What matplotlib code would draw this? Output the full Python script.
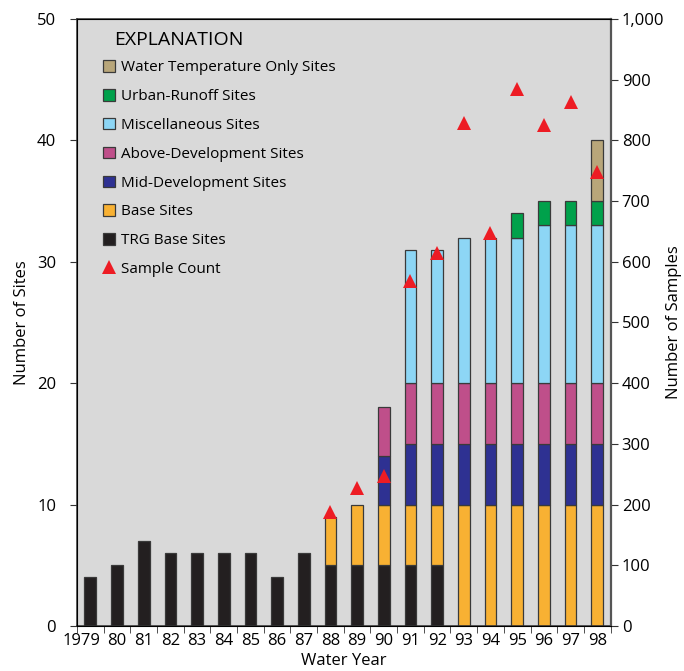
import matplotlib
matplotlib.use("Agg")
import matplotlib.pyplot as plt
import matplotlib.transforms as mtransforms
import numpy as np
from matplotlib.patches import Patch
from matplotlib.lines import Line2D
from matplotlib.ticker import FuncFormatter

plt.rcParams['font.family'] = ['Open Sans', 'DejaVu Sans']

# water years and their tick labels
years = [1979, 1980, 1981, 1982, 1983, 1984, 1985, 1986, 1987, 1988,
         1989, 1990, 1991, 1992, 1993, 1994, 1995, 1996, 1997, 1998]
yearLabels = ['1979', '80', '81', '82', '83', '84', '85', '86', '87', '88',
              '89', '90', '91', '92', '93', '94', '95', '96', '97', '98']

# number of sites per category (stacked bottom to top)
trgBase = [4, 5, 7, 6, 6, 6, 6, 4, 6, 5, 5, 5, 5, 5, 0, 0, 0, 0, 0, 0]
base = [0, 0, 0, 0, 0, 0, 0, 0, 0, 4, 5, 5, 5, 5, 10, 10, 10, 10, 10, 10]
midDev = [0, 0, 0, 0, 0, 0, 0, 0, 0, 0, 0, 4, 5, 5, 5, 5, 5, 5, 5, 5]
aboveDev = [0, 0, 0, 0, 0, 0, 0, 0, 0, 0, 0, 4, 5, 5, 5, 5, 5, 5, 5, 5]
misc = [0, 0, 0, 0, 0, 0, 0, 0, 0, 0, 0, 0, 11, 11, 12, 12, 12, 13, 13, 13]
urban = [0, 0, 0, 0, 0, 0, 0, 0, 0, 0, 0, 0, 0, 0, 0, 0, 2, 2, 2, 2]
waterTemp = [0, 0, 0, 0, 0, 0, 0, 0, 0, 0, 0, 0, 0, 0, 0, 0, 0, 0, 0, 5]

# sample counts (right axis)
sampleYears = [1988, 1989, 1990, 1991, 1992, 1993, 1994, 1995, 1996, 1997, 1998]
sampleCount = [188, 228, 247, 568, 614, 828, 647, 884, 825, 864, 748]

series = [
    ('TRG Base Sites', trgBase, '#231F20'),
    ('Base Sites', base, '#F8B133'),
    ('Mid-Development Sites', midDev, '#2E3192'),
    ('Above-Development Sites', aboveDev, '#BF4F8A'),
    ('Miscellaneous Sites', misc, '#8DD6F5'),
    ('Urban-Runoff Sites', urban, '#00A14B'),
    ('Water Temperature Only Sites', waterTemp, '#B8A67A'),
]
edge = '#3a3a3a'
red = '#ED1C24'

fig = plt.figure(figsize=(6.84, 6.71), dpi=100)
ax = fig.add_axes([0.1126, 0.0671, 0.78, 0.9046])
ax.set_facecolor('#D9D9D9')

x = np.array(years)
bottom = np.zeros(len(years))
for name, vals, color in series:
	vals = np.array(vals, dtype=float)
	keep = vals > 0
	ax.bar(x[keep], vals[keep], width=0.44, bottom=bottom[keep], color=color,
	       edgecolor=edge, linewidth=0.9, zorder=2)
	bottom += vals

ax.set_xlim(1978.5, 1998.5)
ax.set_ylim(0, 50)
ax.set_yticks([0, 10, 20, 30, 40, 50])
ax.set_xticks(years)
ax.set_xticklabels(yearLabels)
ax.set_xticks(np.arange(1978.5, 1999, 1.0), minor=True)
ax.tick_params(axis='x', which='major', length=0, pad=5, labelsize=12)
ax.tick_params(axis='x', which='minor', length=5, color='#333333')
ax.tick_params(axis='y', length=5, color='#333333', labelsize=12, pad=10)
for s in ax.spines.values():
	s.set_color('#333333')
	s.set_linewidth(1.1)

# the first label is wider, nudge it left like the original
first = ax.get_xticklabels()[0]
first.set_transform(first.get_transform() +
                    mtransforms.ScaledTranslation(-9 / 100, 0, fig.dpi_scale_trans))

ax.set_ylabel('Number of Sites', fontsize=12, labelpad=5)
ax.set_xlabel('Water Year', fontsize=12, labelpad=3)

ax2 = ax.twinx()
ax2.set_ylim(0, 1000)
ax2.set_yticks(np.arange(0, 1001, 100))
ax2.yaxis.set_major_formatter(FuncFormatter(lambda v, p: '{:,.0f}'.format(v)))
ax2.tick_params(axis='y', length=5, color='#333333', labelsize=12, pad=3)
ax2.spines['right'].set_color('#555555')
ax2.spines['right'].set_linewidth(1.6)
ax2.plot(sampleYears, sampleCount, linestyle='none', marker='^', markersize=9.5,
         color=red, markeredgewidth=0, zorder=5)
ax2.set_ylabel('Number of Samples', fontsize=12, labelpad=1)

# explanation block
handles = []
labels = []
for name, vals, color in series[::-1]:
	handles.append(Patch(facecolor=color, edgecolor=edge, linewidth=0.9))
	labels.append(name)
handles.append(Line2D([], [], linestyle='none', marker='^', markersize=10,
                      color=red, markeredgewidth=0))
labels.append('Sample Count')

ax2.text(0.069, 0.98, 'EXPLANATION', transform=ax.transAxes, fontsize=14,
         va='top', ha='left')
ax2.legend(handles, labels, loc='upper left', bbox_to_anchor=(0.048, 0.932),
           frameon=False, fontsize=11, handlelength=0.78, handleheight=0.78,
           handletextpad=0.4, labelspacing=0.9, borderpad=0, borderaxespad=0)

fig.savefig('out.png', dpi=100)
